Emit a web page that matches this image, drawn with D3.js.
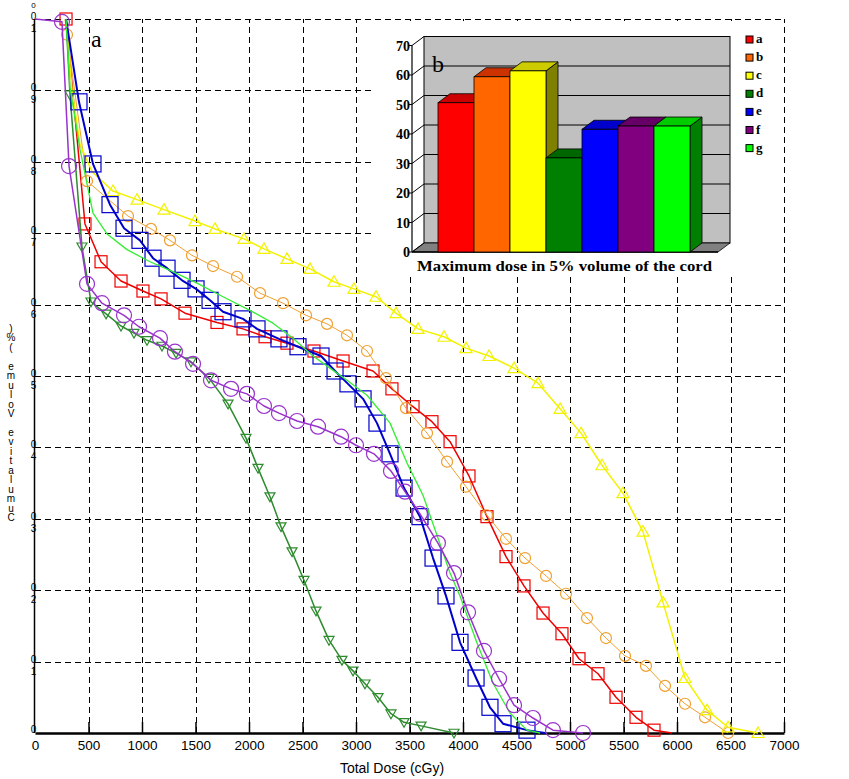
<!DOCTYPE html>
<html><head><meta charset="utf-8">
<script src="https://cdn.jsdelivr.net/npm/d3@7"></script>
<style>body{margin:0;background:#fff}svg{display:block}</style>
</head><body>
<svg id="chart" width="849" height="779"></svg>
<script>
// ---------------- data ----------------
const xTicks = [0,500,1000,1500,2000,2500,3000,3500,4000,4500,5000,5500,6000,6500,7000];
const yTicks = [0,0.1,0.2,0.3,0.4,0.5,0.6,0.7,0.8,0.9,1.0];
const yLabelUpper = ["", "0","0","0","0","0","0","0","0","0","0"];
const yLabelLower = ["0","1","2","3","4","5","6","7","8","9","1"];
const xTitle = "Total Dose (cGy)";
const yTitle = "Cumulative Volume (%)";

// series a (red, squares)
const doseA = [290,467,617,804,1009,1178,1402,1701,1944,2150,2355,2607,2879,3159,3336,3533,3710,3879,4056,4224,4402,4570,4748,4925,5084,5262,5430,5617,5785,5953];
const volA  = [1.0,0.713,0.660,0.633,0.619,0.608,0.588,0.575,0.566,0.555,0.546,0.535,0.521,0.507,0.482,0.457,0.436,0.408,0.360,0.303,0.247,0.206,0.168,0.139,0.104,0.083,0.050,0.022,0.004,0.0];
// series b (orange, circles)
const doseB = [280,299,486,869,1084,1262,1467,1664,1888,2103,2318,2533,2729,2916,3103,3280,3467,3664,3851,4028,4224,4402,4580,4776,4963,5159,5336,5514,5710,5888,6075,6262,6477];
const volB  = [1.0,0.978,0.773,0.724,0.706,0.690,0.669,0.654,0.639,0.616,0.602,0.585,0.573,0.557,0.535,0.497,0.455,0.420,0.380,0.345,0.305,0.272,0.245,0.220,0.195,0.161,0.133,0.108,0.094,0.066,0.041,0.022,0.0];
// series c (yellow, triangles)
const doseC = [290,346,421,533,729,953,1206,1495,1682,1953,2140,2355,2570,2794,2981,3187,3374,3580,3822,4028,4243,4477,4701,4907,5103,5299,5495,5682,5869,6075,6281,6477,6757];
const volC  = [1.0,0.901,0.824,0.786,0.759,0.747,0.733,0.717,0.706,0.692,0.678,0.664,0.650,0.632,0.622,0.611,0.588,0.566,0.555,0.539,0.528,0.511,0.490,0.454,0.420,0.375,0.336,0.282,0.183,0.077,0.032,0.008,0.0];
// series d (dark green, down triangles)
const doseD = [290,327,439,523,664,804,925,1047,1187,1318,1458,1626,1804,1972,2084,2196,2299,2402,2514,2626,2748,2869,2972,3084,3206,3327,3449,3608,3916];
const volD  = [1.0,0.894,0.681,0.604,0.587,0.570,0.560,0.550,0.542,0.532,0.520,0.497,0.461,0.413,0.371,0.331,0.289,0.254,0.214,0.171,0.130,0.102,0.087,0.069,0.050,0.027,0.015,0.010,0.0];
// series e (blue, big squares)
const doseE = [290,411,542,701,832,981,1103,1234,1374,1505,1636,1757,1944,2075,2280,2458,2673,2804,2925,3066,3196,3318,3449,3598,3720,3841,3972,4122,4252,4374,4598,4766];
const volE  = [1.0,0.884,0.797,0.740,0.707,0.690,0.665,0.651,0.634,0.622,0.606,0.590,0.580,0.566,0.552,0.541,0.528,0.507,0.489,0.468,0.434,0.391,0.343,0.303,0.245,0.192,0.127,0.077,0.036,0.013,0.004,0.0];
// series f (purple, big circles)
const doseF = [0,252,318,486,626,832,972,1168,1308,1477,1645,1832,1981,2140,2280,2449,2645,2860,3000,3168,3327,3458,3598,3766,3916,4047,4196,4337,4477,4654,4841,5122];
const volF  = [1.0,0.996,0.794,0.629,0.602,0.585,0.569,0.553,0.534,0.517,0.494,0.482,0.475,0.458,0.448,0.437,0.429,0.415,0.403,0.391,0.367,0.338,0.307,0.266,0.224,0.169,0.115,0.076,0.039,0.021,0.004,0.0];
// series g (lime, no markers)
const doseG = [290,327,421,542,673,860,1075,1262,1514,1757,2009,2224,2411,2598,2757,2916,3103,3318,3477,3626,3757,3879,3972,4131,4280,4439,4598,4720];
const volG  = [1.0,0.905,0.817,0.728,0.699,0.677,0.660,0.648,0.630,0.611,0.592,0.574,0.553,0.528,0.511,0.494,0.473,0.434,0.378,0.333,0.277,0.224,0.192,0.126,0.070,0.028,0.004,0.0];

// inset bar chart (b)
const insetCategories = ["a","b","c","d","e","f","g"];
const insetValues = [50.6,59.4,61.4,31.9,41.6,42.7,42.7];
const insetTicks = [0,10,20,30,40,50,60,70];
const insetTitle = "Maximum dose in 5% volume of the cord";

// ---------------- styles ----------------
const seriesStyle = [
  {dose:doseA, vol:volA, color:"#ee0000", w:1.5, marker:"square", size:12, from:0, to:29},
  {dose:doseB, vol:volB, color:"#f0a030", w:1.0, marker:"circle", size:11, from:1, to:33},
  {dose:doseC, vol:volC, color:"#f2f200", w:1.5, marker:"tri", size:12, from:4, to:33},
  {dose:doseD, vol:volD, color:"#2e8b2e", w:1.5, marker:"trid", size:10, from:1, to:29},
  {dose:doseE, vol:volE, color:"#0000cc", w:2.0, marker:"square", size:16, from:1, to:31},
  {dose:doseG, vol:volG, color:"#33ee33", w:1.3, marker:null},
  {dose:doseF, vol:volF, color:"#9933cc", w:1.5, marker:"circle", size:15, from:1, to:32}
];
const barFront = ["#ff0000","#ff6600","#ffff00","#008000","#0000ff","#800080","#00ff00"];
const barTop   = ["#cc0000","#cc3300","#cccc00","#006600","#0000cc","#660066","#00cc00"];
const barSide  = ["#800000","#803300","#808000","#004000","#000080","#400040","#008000"];

// ---------------- main chart ----------------
const svg = d3.select("#chart");
svg.append("rect").attr("width",849).attr("height",779).attr("fill","#fff");
const x = d3.scaleLinear().domain([0,7000]).range([35,784]);
const y = d3.scaleLinear().domain([0,1]).range([733,19]);

const grid = svg.append("g").attr("stroke","#000").attr("stroke-width",1).attr("stroke-dasharray","6,4");
grid.selectAll("line.v").data(xTicks.slice(1)).join("line")
  .attr("x1",d=>Math.round(x(d))+0.5).attr("x2",d=>Math.round(x(d))+0.5)
  .attr("y1",y(0)).attr("y2",y(1));
grid.selectAll("line.h").data(yTicks.slice(1)).join("line")
  .attr("y1",d=>Math.round(y(d))+0.5).attr("y2",d=>Math.round(y(d))+0.5)
  .attr("x1",x(0)).attr("x2",x(7000));

// y tick labels (stacked characters as in the original)
const yl = svg.append("g").attr("font-family","Liberation Sans, Arial, sans-serif").attr("font-size",10).attr("text-anchor","middle").attr("fill","#000");
yTicks.forEach((v,i)=>{
  if (yLabelUpper[i]) yl.append("text").attr("x",33.5).attr("y",y(v)+1).text(yLabelUpper[i]);
  yl.append("text").attr("x",33.5).attr("y",i===0 ? y(v) : y(v)+13).text(yLabelLower[i]);
});
yl.append("text").attr("x",33.5).attr("y",8).attr("font-size",8).text("0");

// y title: upright characters stacked, reversed
const ytChars = yTitle.split("").reverse();
const yt = svg.append("g").attr("font-family","Liberation Sans, Arial, sans-serif").attr("font-size",10).attr("text-anchor","middle");
ytChars.forEach((ch,i)=>{ yt.append("text").attr("x",11).attr("y",332+i*9.45).text(ch); });

// x axis
const xAxis = d3.axisBottom(x).tickValues(xTicks).tickSizeInner(-11).tickSizeOuter(0).tickPadding(7).tickFormat(d3.format("d"));
const xa = svg.append("g").attr("transform",`translate(0,${y(0)})`).call(xAxis);
xa.select(".domain").attr("stroke-width",2.5);
xa.selectAll(".tick line").attr("stroke-width",1.5);
xa.selectAll(".tick text").attr("font-family","Liberation Sans, Arial, sans-serif").attr("font-size",13.5).attr("fill","#000");
xa.selectAll(".tick").filter(d=>d===0).select("line").remove();

// left axis
svg.append("line").attr("x1",34.5).attr("x2",34.5).attr("y1",y(1)).attr("y2",y(0)).attr("stroke","#000").attr("stroke-width",1.5);

svg.append("text").attr("x",392).attr("y",773).attr("text-anchor","middle")
  .attr("font-family","Liberation Sans, Arial, sans-serif").attr("font-size",14).text(xTitle);

// curves
const line = d3.line().x(d=>x(d[0])).y(d=>y(d[1]));
const curves = svg.append("g");
seriesStyle.forEach(s=>{
  const pts = s.dose.map((d,i)=>[d, s.vol[i]]);
  curves.append("path").datum(pts).attr("d",line).attr("fill","none")
    .attr("stroke",s.color).attr("stroke-width",s.w).attr("stroke-linejoin","round");
  if (!s.marker) return;
  const mk = pts.slice(s.from, s.to);
  const g = curves.append("g").attr("fill","none").attr("stroke",s.color).attr("stroke-width",1.2);
  mk.forEach(p=>{
    const cx = x(p[0]), cy = y(p[1]), r = s.size/2;
    if (s.marker==="square") g.append("rect").attr("x",cx-r).attr("y",cy-r).attr("width",s.size).attr("height",s.size);
    else if (s.marker==="circle") g.append("circle").attr("cx",cx).attr("cy",cy).attr("r",r);
    else if (s.marker==="tri") g.append("path").attr("d",`M${cx},${cy-r}L${cx+r},${cy+r*0.75}L${cx-r},${cy+r*0.75}Z`);
    else if (s.marker==="trid") g.append("path").attr("d",`M${cx},${cy+r}L${cx+r},${cy-r*0.75}L${cx-r},${cy-r*0.75}Z`);
  });
});

svg.append("text").attr("x",91).attr("y",47).attr("font-family","Liberation Serif, Times New Roman, serif").attr("font-size",24).text("a");

// ---------------- inset 3D bar chart ----------------
const ins = svg.append("g");
ins.append("rect").attr("x",375).attr("y",21).attr("width",406).attr("height",256).attr("fill","#fff");
const dx = 12, dy = -9;
const yb = d3.scaleLinear().domain([0,70]).range([252,45.5]);
const xb = d3.scaleBand().domain(insetCategories).range([438,690]).padding(0);
const fx0 = 412, fx1 = 718;
// back wall
ins.append("rect").attr("x",fx0+dx).attr("y",yb(70)+dy).attr("width",fx1-fx0).attr("height",yb(0)-yb(70))
  .attr("fill","#c0c0c0").attr("stroke","#000").attr("stroke-width",1);
// floor
ins.append("path").attr("d",`M${fx0},${yb(0)}L${fx0+dx},${yb(0)+dy}L${fx1+dx},${yb(0)+dy}L${fx1},${yb(0)}Z`)
  .attr("fill","#808080").attr("stroke","#000").attr("stroke-width",0.8);
// wall grid lines + axis diagonals
insetTicks.slice(1,-1).forEach(v=>{
  ins.append("line").attr("x1",fx0+dx).attr("x2",fx1+dx).attr("y1",yb(v)+dy).attr("y2",yb(v)+dy).attr("stroke","#000").attr("stroke-width",1.2);
});
insetTicks.forEach(v=>{
  ins.append("line").attr("x1",fx0).attr("x2",fx0+dx).attr("y1",yb(v)).attr("y2",yb(v)+dy).attr("stroke","#000");
  ins.append("line").attr("x1",fx0-4).attr("x2",fx0).attr("y1",yb(v)).attr("y2",yb(v)).attr("stroke","#000");
});
ins.append("line").attr("x1",fx0).attr("x2",fx0).attr("y1",yb(70)).attr("y2",yb(0)).attr("stroke","#000").attr("stroke-width",1.2);
ins.append("line").attr("x1",fx0).attr("x2",fx1).attr("y1",yb(0)).attr("y2",yb(0)).attr("stroke","#000").attr("stroke-width",1.5);
ins.append("g").attr("font-family","Liberation Serif, Times New Roman, serif").attr("font-weight","bold").attr("font-size",14).attr("text-anchor","end")
  .selectAll("text").data(insetTicks).join("text").attr("x",fx0-2).attr("y",d=>yb(d)+5).text(d=>d);
// bars
insetCategories.forEach((c,i)=>{
  const x0 = xb(c), w = xb.bandwidth(), yt0 = yb(insetValues[i]), yb0 = yb(0);
  ins.append("path").attr("d",`M${x0+w},${yt0}L${x0+w+dx},${yt0+dy}L${x0+w+dx},${yb0+dy}L${x0+w},${yb0}Z`)
    .attr("fill",barSide[i]).attr("stroke","#000").attr("stroke-width",0.8);
  ins.append("path").attr("d",`M${x0},${yt0}L${x0+dx},${yt0+dy}L${x0+w+dx},${yt0+dy}L${x0+w},${yt0}Z`)
    .attr("fill",barTop[i]).attr("stroke","#000").attr("stroke-width",0.8);
  ins.append("rect").attr("x",x0).attr("y",yt0).attr("width",w).attr("height",yb0-yt0)
    .attr("fill",barFront[i]).attr("stroke","#000").attr("stroke-width",0.8);
});
ins.append("text").attr("x",432).attr("y",72).attr("font-family","Liberation Serif, Times New Roman, serif").attr("font-size",24).text("b");
ins.append("text").attr("x",417).attr("y",271).attr("textLength",295).attr("lengthAdjust","spacingAndGlyphs")
  .attr("font-family","Liberation Serif, Times New Roman, serif").attr("font-weight","bold").attr("font-size",15).text(insetTitle);
// legend
const lg = ins.append("g");
insetCategories.forEach((c,i)=>{
  lg.append("rect").attr("x",746).attr("y",36+i*18.1).attr("width",7).attr("height",7).attr("fill",barFront[i]).attr("stroke","#000").attr("stroke-width",1);
  lg.append("text").attr("x",756).attr("y",43+i*18.1).attr("font-family","Liberation Serif, Times New Roman, serif").attr("font-weight","bold").attr("font-size",13).text(c);
});
</script>
</body></html>
